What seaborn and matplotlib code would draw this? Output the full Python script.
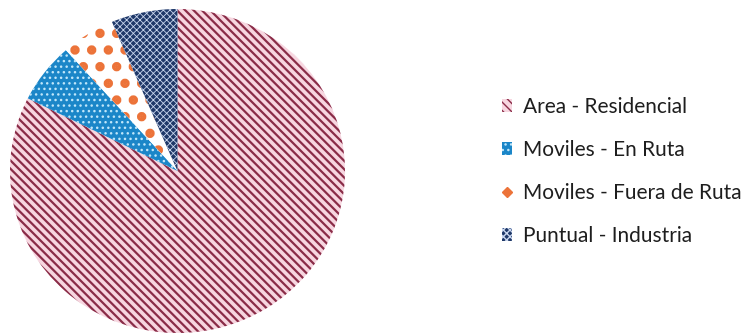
import matplotlib
matplotlib.use("Agg")
import matplotlib.pyplot as plt
from matplotlib.patches import Patch
from matplotlib.lines import Line2D
import seaborn as sns

# Emission sources and their share of the total (%)
categories = ["Area - Residencial", "Moviles - En Ruta",
              "Moviles - Fuera de Ruta", "Puntual - Industria"]
shares = [82.4, 6.0, 5.2, 6.4]

# Fill style for each source: face colour, hatch colour, hatch, hatch width
face_colors = ["#f7d6e0", "#1b86c8", "#ffffff", "#1f3868"]
hatch_colors = ["#8a2c48", "#bfe6fa", "#ec7339", "#c9d6ee"]
hatches = ["\\\\\\\\", "...", ".", "xxxxx"]
hatch_widths = [1.6, 1.0, 4.3, 0.6]

sns.set_theme(style="white")
plt.rcParams["font.family"] = ["Lato", "DejaVu Sans"]

W, H = 746, 333
fig = plt.figure(figsize=(W / 100, H / 100), dpi=100)
fig.patch.set_facecolor("white")

# Pie axes spanning x 10..345 px and y 9..333 px (slightly oval)
x0, x1, y0, y1 = 10, 345, 9, 333
ax = fig.add_axes([x0 / W, (H - y1) / H, (x1 - x0) / W, (y1 - y0) / H])

wedges, _ = ax.pie(shares, startangle=90, counterclock=False, radius=1,
                   colors=face_colors, wedgeprops=dict(linewidth=0))
ax.set_xlim(-1, 1)
ax.set_ylim(-1, 1)
ax.set_aspect("auto")
ax.axis("off")


def style_patch(p, hc, h, hw):
    p.set_edgecolor(hc)
    p.set_linewidth(0)
    p.set_hatch(h)
    if hasattr(p, "set_hatch_linewidth"):
        p.set_hatch_linewidth(hw)


for w, hc, h, hw in zip(wedges, hatch_colors, hatches, hatch_widths):
    style_patch(w, hc, h, hw)

# Legend keys: small hatched squares, a single dot for the dotted fill
handles = []
for i, (fc, hc, h, hw) in enumerate(zip(face_colors, hatch_colors,
                                        hatches, hatch_widths)):
    if i == 2:
        handles.append(Line2D([], [], linestyle="none", marker="D",
                              markersize=5.5, markerfacecolor=hc,
                              markeredgecolor=hc))
    else:
        p = Patch(facecolor=fc)
        style_patch(p, hc, h, min(hw, 1.2))
        handles.append(p)

leg = fig.legend(handles, categories, loc="center left",
                 bbox_to_anchor=(502 / W, (H - 171.5) / H),
                 frameon=False, fontsize=15, handlelength=0.5,
                 handleheight=0.55, handletextpad=0.5,
                 labelspacing=1.1, borderpad=0, borderaxespad=0)
for t in leg.get_texts():
    t.set_color("#1e1e1e")

fig.savefig("out.png", dpi=100, facecolor="white")
